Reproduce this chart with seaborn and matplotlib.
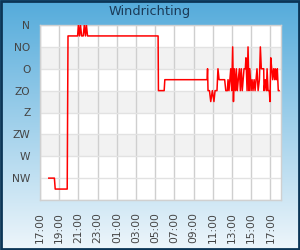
import numpy as np
import pandas as pd
import matplotlib
matplotlib.use("Agg")
import matplotlib.pyplot as plt
import matplotlib.dates as mdates
from matplotlib.patches import Rectangle
import seaborn as sns

title = "Windrichting"
dir_labels = ["N", "NO", "O", "ZO", "Z", "ZW", "W", "NW"]
dir_degrees = [0, 45, 90, 135, 180, 225, 270, 315]

times = [
    "17:55", "18:30", "18:35", "19:50", "19:55",
    "20:55", "21:00", "21:07", "21:13", "21:20", "21:30", "21:37", "21:44", "21:50", "21:57",
    "05:18", "05:20", "05:56", "06:00", "10:24",
    "10:27", "10:30", "10:39", "10:47", "10:57", "11:07", "11:14", "11:26", "11:32", "11:39",
    "12:14", "12:21", "12:31", "12:35", "12:41", "12:52", "12:58", "13:04", "13:09", "13:14",
    "13:21", "13:27", "13:33", "13:39", "13:46", "13:52", "13:58", "14:04", "14:15", "14:23",
    "14:27", "14:34", "14:40", "14:46", "14:51", "14:59", "15:05", "15:11", "15:18", "15:24",
    "15:36", "15:43", "15:51", "15:57", "16:03", "16:18", "16:20", "16:28", "16:35", "16:39",
    "16:45", "16:53", "16:57", "17:02", "17:08", "17:14", "17:20", "17:27", "17:30", "17:37",
    "17:43", "17:49", "17:54",
]
directions = [
    315, 315, 337.5, 337.5, 22.5,
    22.5, 0, 22.5, 0, 22.5, 22.5, 0, 22.5, 0, 22.5,
    22.5, 135, 135, 112.5, 112.5,
    90, 135, 135, 157.5, 135, 157.5, 135, 135, 90, 112.5,
    112.5, 135, 135, 112.5, 135, 90, 135, 45, 157.5, 90,
    135, 90, 135, 112.5, 90, 135, 90, 135, 90, 90,
    67.5, 135, 45, 135, 90, 135, 112.5, 135, 112.5, 135,
    90, 135, 112.5, 45, 90, 90, 135, 112.5, 135, 90,
    135, 135, 157.5, 67.5, 90, 112.5, 90, 112.5, 90, 112.5,
    90, 135, 135,
]

# build datetimes with day rollover
base = pd.Timestamp("2024-01-01")
stamps = []
day = 0
prev = None
for t in times:
    h, m = map(int, t.split(":"))
    mins = h * 60 + m
    if prev is not None and mins < prev:
        day += 1
    prev = mins
    stamps.append(base + pd.Timedelta(days=day, minutes=mins))
df = pd.DataFrame({"time": stamps, "deg": directions})

fig = plt.figure(figsize=(3, 2.5), dpi=100)

# gradient background
bg = fig.add_axes([0, 0, 1, 1], zorder=-10)
top = np.array([84, 171, 219]) / 255
bot = np.array([238, 246, 251]) / 255
g = np.linspace(0, 1, 256)[:, None]
grad = top[None, :] * (1 - g) + bot[None, :] * g
bg.imshow(grad[:, None, :].repeat(2, axis=1), aspect="auto", extent=[0, 1, 0, 1])
bg.set_axis_off()
fig.patches.append(Rectangle((0.003, 0.004), 0.994, 0.992, transform=fig.transFigure,
                             fill=False, edgecolor="#0B3556", linewidth=2))

ax = fig.add_axes([40 / 300, 1 - 200 / 250, 241 / 300, 175 / 250])
ax.set_facecolor("white")

x0 = base + pd.Timedelta(hours=17)
x1 = base + pd.Timedelta(hours=17 + 25.1)
for lo, hi in [(45, 90), (135, 180), (225, 270)]:
    ax.axhspan(lo, hi, color="#F2F2F2", zorder=0, linewidth=0)

sns.lineplot(data=df, x="time", y="deg", color="#FF0000", linewidth=1.1,
             estimator=None, sort=False, ax=ax, zorder=3)

ax.set_ylim(360, 0)
ax.set_yticks(dir_degrees + [360])
ax.set_yticklabels(dir_labels + [""])
ax.set_xlim(x0, x1)
ax.xaxis.set_major_locator(mdates.HourLocator(byhour=range(1, 24, 2)))
ax.xaxis.set_major_formatter(mdates.DateFormatter("%H:%M"))
ax.grid(True, axis="x", color="#CFCFCF", linewidth=1, zorder=1)
ax.grid(True, axis="y", color="#E2E2E2", linewidth=1, zorder=1)
ax.set_axisbelow(True)
ax.tick_params(axis="both", length=0, labelsize=7.7, labelcolor="#444444")
ax.tick_params(axis="x", pad=8.5, labelrotation=90)
ax.tick_params(axis="y", pad=7)
ax.set_xlabel("")
ax.set_ylabel("")
for s in ax.spines.values():
    s.set_color("#D0D0D0")
    s.set_linewidth(1)

fig.text(0.5, 1 - 12 / 250, title, ha="center", va="center", fontsize=9.3,
         color="#1B3A57", family="DejaVu Sans")

fig.savefig("out.png", dpi=100)
